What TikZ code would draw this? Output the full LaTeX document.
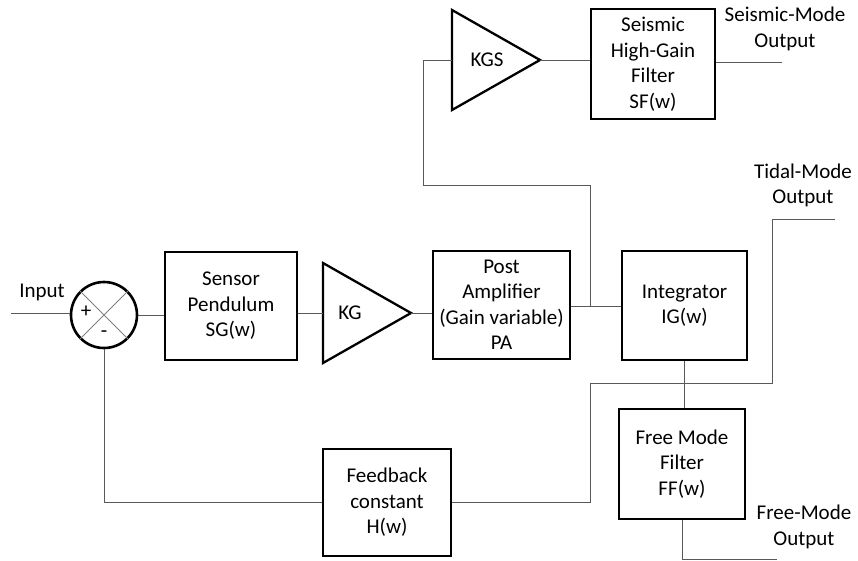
\documentclass[tikz,border=0pt]{standalone}
\usepackage{fontspec}
\setmainfont{Carlito}
\begin{document}
\begin{tikzpicture}[x=1pt,y=-1pt,
  font=\fontsize{21}{25.5}\selectfont,
  blk/.style={draw, line width=2.6pt, align=center, inner sep=0pt},
  wire/.style={draw=black!65, line width=1pt},
  tri/.style={draw, line width=2.3pt, line join=miter},
  lbl/.style={align=center, inner sep=0pt},
  cross/.style={draw=black!50, line width=0.9pt}]
\useasboundingbox (0,0) rectangle (858,560);

% summing junction
\node[circle, draw, line width=2.6pt, minimum size=66pt, inner sep=0pt] (sum) at (104,315) {};
\draw[cross] (sum.north west) -- (sum.south east);
\draw[cross] (sum.north east) -- (sum.south west);
\node[lbl] (plus) at (86,312) {+};
\node[lbl] (minus) at (104,334) {-};
\node[lbl] (inlbl) at (42,292) {Input};
\coordinate (in) at (11,313);

% blocks
\node[blk, minimum width=132pt, minimum height=108pt] (sg) at (231,306) {Sensor\\Pendulum\\SG(w)};
\node[blk, minimum width=137pt, minimum height=108pt] (pa) at (501.5,305) {Post\\Amplifier\\(Gain variable)\\PA};
\node[blk, minimum width=125pt, minimum height=109pt] (int) at (684.5,305.5) {Integrator\\IG(w)};
\node[blk, minimum width=124pt, minimum height=110pt] (sf) at (653,64) {Seismic\\High-Gain\\Filter\\SF(w)};
\node[blk, minimum width=126pt, minimum height=110pt] (ff) at (682,464) {Free Mode\\Filter\\FF(w)};
\node[blk, minimum width=128pt, minimum height=107pt] (fb) at (387,502.5) {Feedback\\constant\\H(w)};

% amplifiers (triangles)
\coordinate (kgin) at (323,313);
\coordinate (kgout) at (411,313);
\draw[tri] (323,263) -- (kgout) -- (323,363) -- cycle;
\node[lbl] (kg) at (350,313) {KG};

\coordinate (kgsin) at (452,60);
\coordinate (kgsout) at (540,60);
\draw[tri] (452,10) -- (kgsout) -- (452,110) -- cycle;
\node[lbl] (kgs) at (487,60) {KGS};

% output labels
\node[lbl] (seisout) at (785,29) {Seismic-Mode\\Output};
\node[lbl] (tidout) at (803,185.5) {Tidal-Mode\\Output};
\node[lbl] (freeout) at (804,527) {Free-Mode\\Output};

% helper coordinates
\coordinate (j1) at (590,306);
\coordinate (c1) at (590,185);
\coordinate (c2) at (423,60);
\coordinate (so) at (782,62);
\coordinate (to) at (835,219);
\coordinate (t1) at (772,383);
\coordinate (t2) at (590,383);
\coordinate (fo) at (777,559);

% connectors
\draw[wire] (in) -- (in -| sum.west);
\draw[wire] (sum.east) -- (sum.east -| sg.west);
\draw[wire] (sg.east |- kgin) -- (kgin);
\draw[wire] (kgout) -- (kgout -| pa.west);
\draw[wire] (pa.east |- j1) -- (j1 -| int.west);
\draw[wire] (j1) -- (c1) -| (c2) -- (kgsin);
\draw[wire] (kgsout) -- (kgsout -| sf.west);
\draw[wire] (sf.east |- so) -- (so);
\draw[wire] (to) -- (to -| t1) -- (t1) -- (t2) -- (t2 |- fb.east) -- (fb.east);
\draw[wire] (fb.west) -| (sum.south);
\draw[wire] (int.south) -- (int.south |- ff.north);
\draw[wire] (ff.south) -- (ff.south |- fo) -- (fo);
\end{tikzpicture}
\end{document}
